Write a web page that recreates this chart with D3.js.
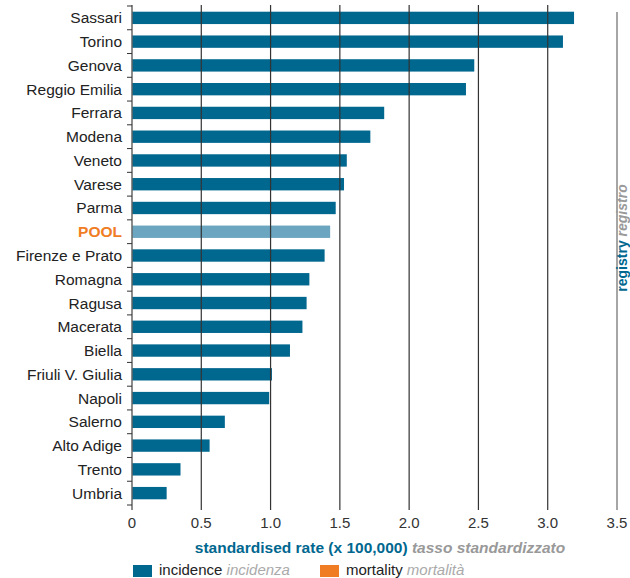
<!DOCTYPE html><html><head><meta charset="utf-8"><script src="https://cdn.jsdelivr.net/npm/d3@7"></script>
<style>body{margin:0;background:#fff}text{font-family:"Liberation Sans",Arial,sans-serif}</style></head><body><svg id="c" width="630" height="578"></svg>
<script>
const categories=["Sassari","Torino","Genova","Reggio Emilia","Ferrara","Modena","Veneto","Varese","Parma","POOL","Firenze e Prato","Romagna","Ragusa","Macerata","Biella","Friuli V. Giulia","Napoli","Salerno","Alto Adige","Trento","Umbria"];
const incidence=[3.19,3.11,2.47,2.41,1.82,1.72,1.55,1.53,1.47,1.43,1.39,1.28,1.26,1.23,1.14,1.01,0.99,0.67,0.56,0.35,0.25];
const ticks=[0,0.5,1.0,1.5,2.0,2.5,3.0,3.5];
const svg=d3.select("#c");
const x=d3.scaleLinear().domain([0,3.5]).range([132,617]);
const y=d3.scaleBand().domain(categories).range([6,505]).paddingInner(0.48).paddingOuter(0.24);
const blue="#00678f";
svg.selectAll("rect.b").data(categories).join("rect").attr("x",x(0)).attr("y",d=>y(d)).attr("height",y.bandwidth())
 .attr("width",(d,i)=>x(incidence[i])-x(0)).attr("fill",d=>d==="POOL"?"#6ba5c0":blue);
svg.selectAll("line.g").data(ticks.slice(1,7)).join("line").attr("x1",d=>x(d)).attr("x2",d=>x(d)).attr("y1",5).attr("y2",510).attr("stroke","#333").attr("stroke-width",1.2);
svg.append("line").attr("x1",x(3.5)).attr("x2",x(3.5)).attr("y1",12).attr("y2",510).attr("stroke","#888").attr("stroke-width",1.5);
svg.append("line").attr("x1",x(0)).attr("x2",x(0)).attr("y1",5).attr("y2",510).attr("stroke","#666").attr("stroke-width",1.5);
const step=y.step();
const bounds=categories.map(d=>y(d)-step*y.paddingInner()/2).concat([y(categories[20])+y.bandwidth()+step*y.paddingInner()/2]);
svg.selectAll("line.t").data(bounds).join("line").attr("x1",x(0)-5).attr("x2",x(0)).attr("y1",d=>d).attr("y2",d=>d).attr("stroke","#333");
svg.selectAll("text.c").data(categories).join("text").attr("x",122).attr("y",d=>y(d)+y.bandwidth()/2+5.5).attr("text-anchor","end")
 .attr("font-size",15.5).attr("fill",d=>d==="POOL"?"#f07c24":"#222").attr("font-weight",d=>d==="POOL"?"bold":null).text(d=>d);
svg.selectAll("text.x").data(ticks).join("text").attr("x",d=>x(d)).attr("y",528).attr("text-anchor","middle").attr("font-size",15).attr("fill","#333").text(d=>d===0?"0":d.toFixed(1));
const t=svg.append("text").attr("x",380).attr("y",553).attr("text-anchor","middle").attr("font-size",15.5).attr("font-weight","bold");
t.append("tspan").attr("fill",blue).text("standardised rate (x 100,000)");
t.append("tspan").attr("fill","#999").attr("font-style","italic").text("  tasso standardizzato");
const r=svg.append("text").attr("transform","translate(627,238) rotate(-90)").attr("text-anchor","middle").attr("font-size",14).attr("font-weight","bold");
r.append("tspan").attr("fill",blue).text("registry");
r.append("tspan").attr("fill","#999").attr("font-style","italic").text("  registro");
const lg=[{x:133,c:blue,a:"incidence",b:"incidenza"},{x:320,c:"#f07c24",a:"mortality",b:"mortalità"}];
lg.forEach(l=>{svg.append("rect").attr("x",l.x).attr("y",565).attr("width",19).attr("height",12).attr("fill",l.c);
 const tt=svg.append("text").attr("x",l.x+26).attr("y",575).attr("font-size",15);
 tt.append("tspan").attr("fill","#222").text(l.a);tt.append("tspan").attr("fill","#aaa").attr("font-style","italic").text("  "+l.b);});
</script></body></html>
